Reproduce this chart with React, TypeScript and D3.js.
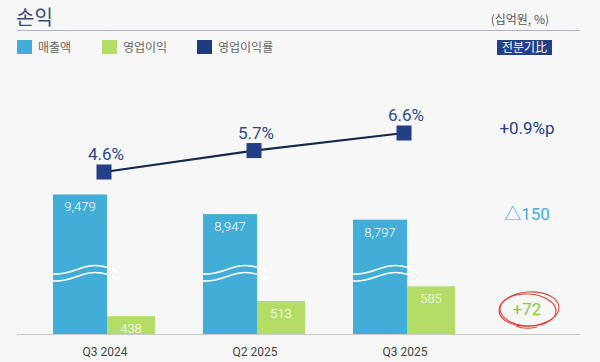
import React from "react";
import { scaleLinear, scalePoint, line } from "d3";

const quarters = ["Q3 2024", "Q2 2025", "Q3 2025"];
const sales = [9479, 8947, 8797];
const opProfit = [438, 513, 585];
const opMargin = [4.6, 5.7, 6.6];
const qoqLabels = ["+0.9%p", "△150", "+72"];
const legendItems = ["매출액", "영업이익", "영업이익률"];

const W = 600;
const H = 362;
const BASE = 334;
const BAR_W = 54;
const GREEN_W = 48;
const BREAK_Y = 270;

const C_BLUE = "#42aed8";
const C_GREEN = "#b4dd68";
const C_NAVY = "#233f86";
const FONT = "Roboto, 'Noto Sans CJK KR', sans-serif";
const KR = "'Noto Sans CJK KR', sans-serif";

const App: React.FC = () => {
  const x = scalePoint<string>().domain(quarters).range([107, 407]);
  // broken axis — bars aren't to scale in the original
  const ySales = scaleLinear().domain([5700, 9500]).range([BASE, BASE - 140.3]);
  const yOp = scaleLinear().domain([350, 600]).range([BASE, BASE - 50.7]);
  const yMargin = scaleLinear().domain([4.6, 6.6]).range([172, 133]);

  const lineGen = line<number>()
    .x((_, i) => x(quarters[i])! - 3)
    .y((d) => yMargin(d));

  const legendX = [17, 102, 197];
  const qoqY = [128, 214, 309];
  const qoqColor = [C_NAVY, C_BLUE, "#8cc63f"];

  const wave = (x0: number, y0: number) =>
    `M${x0},${y0 + 4} C${x0 + 18},${y0 + 6} ${x0 + 30},${y0 - 7} ${x0 + 48},${y0 - 4} S${x0 + 62},${y0 + 2} ${x0 + 64},${y0 + 3}`;

  return (
    <div style={{ position: "fixed", left: 0, top: 0 }}>
      <svg width={W} height={H} style={{ display: "block", fontFamily: FONT }}>
        <rect width={W} height={H} fill="#f7f7f7" />

        {/* header */}
        <text x={16} y={25} fontSize={20} fill="#3b4b7c" fontFamily={KR}>손익</text>
        <line x1={17} x2={580} y1={30.5} y2={30.5} stroke="#a9b5cd" strokeWidth={1.2} />
        <text x={549} y={24} fontSize={12} fill="#555" textAnchor="end" fontFamily={KR}>(십억원, %)</text>

        {legendItems.map((d, i) => (
          <g key={d} transform={`translate(${legendX[i]},40)`}>
            <rect width={15} height={14} fill={[C_BLUE, C_GREEN, "#1f3b80"][i]} />
            <text x={21} y={11.5} fontSize={12} fill="#666" fontFamily={KR}>{d}</text>
          </g>
        ))}

        <rect x={497} y={40} width={55} height={15} fill={C_NAVY} />
        <text x={524.5} y={52} fontSize={12} fill="#fff" textAnchor="middle" fontFamily={KR}>전분기比</text>

        {/* baseline */}
        <line x1={17} x2={580} y1={BASE + 0.5} y2={BASE + 0.5} stroke="#c8c8c8" />

        {quarters.map((q, i) => {
          const cx = x(q)!;
          const bx = cx - BAR_W;
          const top = ySales(sales[i]);
          const gTop = yOp(opProfit[i]);
          return (
            <g key={q}>
              <rect x={bx} y={top} width={BAR_W} height={BASE - top} fill={C_BLUE} />
              <path d={wave(bx, BREAK_Y)} fill="none" stroke="#fff" strokeWidth={1.6} />
              <path d={wave(bx, BREAK_Y + 7)} fill="none" stroke="#fff" strokeWidth={1.6} />
              <text x={bx + BAR_W / 2} y={top + 17} fontSize={13} fill="#fff" textAnchor="middle" fontWeight={300}>
                {sales[i].toLocaleString("en-US")}
              </text>
              <rect x={cx} y={gTop} width={GREEN_W} height={BASE - gTop} fill={C_GREEN} />
              <text x={cx + GREEN_W / 2} y={gTop + 17} fontSize={13} fill="#fff" textAnchor="middle" fontWeight={300}>
                {opProfit[i]}
              </text>
              <text x={cx - 2} y={356} fontSize={12} fill="#444" textAnchor="middle">{q}</text>
            </g>
          );
        })}

        <path d={lineGen(opMargin) ?? ""} fill="none" stroke="#16284a" strokeWidth={2.2} />
        {opMargin.map((v, i) => {
          const mx = x(quarters[i])! - 3;
          const my = yMargin(v);
          return (
            <g key={i}>
              <rect x={mx - 7.5} y={my - 7.5} width={15} height={15} fill={C_NAVY} />
              <text x={mx + 2} y={my - 12} fontSize={17} fill="#2c4a8c" textAnchor="middle">{v.toFixed(1)}%</text>
            </g>
          );
        })}

        {qoqLabels.map((t, i) => (
          <text key={t} x={527} y={qoqY[i] + 6} fontSize={17} fill={qoqColor[i]} textAnchor="middle">{t}</text>
        ))}

        {/* red hand-drawn circle around +72 */}
        <g fill="none" stroke="#e0443c" strokeWidth={1.1}>
          <ellipse cx={529} cy={309} rx={30} ry={17} transform="rotate(-4 529 309)" />
          <ellipse cx={528} cy={310} rx={28} ry={16} transform="rotate(3 528 310)" />
          <path d="M516,326 Q524,330 537,327" />
        </g>
      </svg>
    </div>
  );
};

export default App;
